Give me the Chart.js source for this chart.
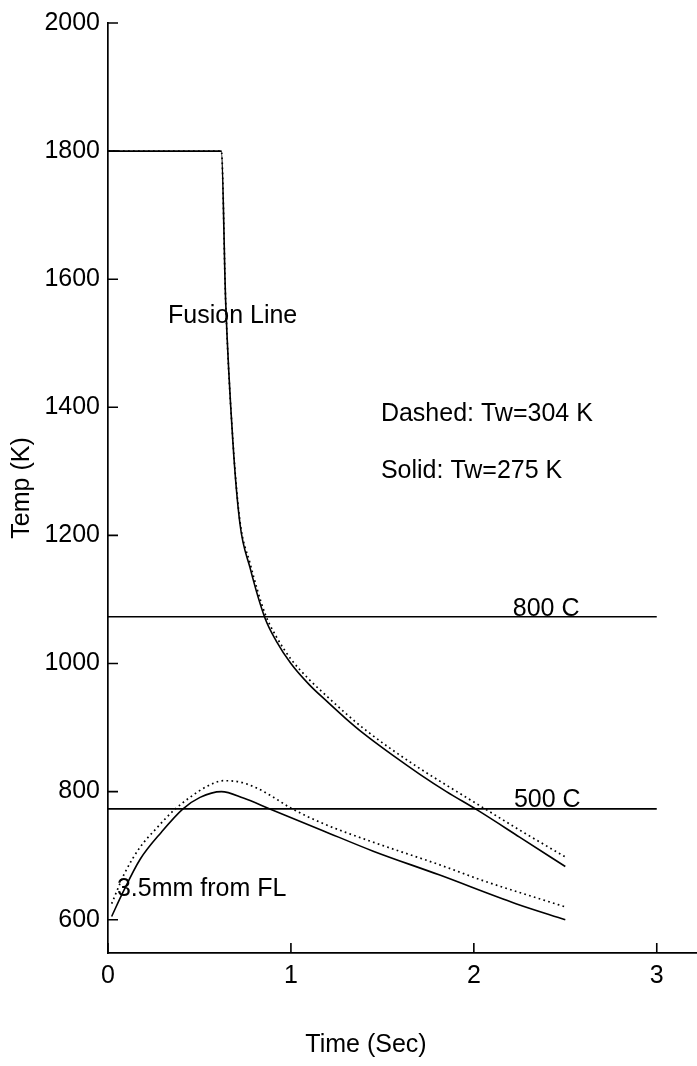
<!DOCTYPE html>
<html>
<head>
<meta charset="utf-8">
<script src="https://cdn.jsdelivr.net/npm/chart.js@4"></script>
<style>
  html, body { margin: 0; padding: 0; background: #ffffff; }
  #container { width: 697px; height: 1066px; position: relative; }
</style>
</head>
<body>
<div id="container"><canvas id="myChart"></canvas></div>
<script>
// time (sec) and temperature (K)
const fusionSolidT = [0, 0.62, 0.643, 0.683, 0.721, 0.776, 0.858, 0.92, 1.0, 1.1, 1.2, 1.3, 1.4, 1.55, 1.705, 1.85, 2.02, 2.25, 2.5];
const fusionSolidK = [1800, 1800, 1567, 1345, 1219, 1150, 1071, 1035, 1000, 967, 940, 914, 890, 858, 827, 800, 771, 729, 683];

const fusionDottedT = [0, 0.62, 0.643, 0.683, 0.721, 0.776, 0.858, 0.92, 1.0, 1.1, 1.2, 1.3, 1.4, 1.55, 1.705, 1.85, 2.05, 2.25, 2.5];
const fusionDottedK = [1800, 1800, 1567, 1347, 1223, 1157, 1078, 1042, 1007, 975, 948, 922, 898, 866, 836, 810, 775, 740, 698];

const nearSolidT = [0.02, 0.082, 0.175, 0.293, 0.41, 0.503, 0.62, 0.74, 0.885, 1.175, 1.45, 1.81, 2.23, 2.5];
const nearSolidK = [605, 643, 694, 737, 773, 791, 800, 790, 773, 739, 707, 670, 625, 600];

const nearDottedT = [0.02, 0.09, 0.175, 0.266, 0.357, 0.448, 0.54, 0.63, 0.72, 0.81, 0.9, 0.995, 1.177, 1.45, 1.81, 2.05, 2.5];
const nearDottedK = [625, 672, 713, 743, 770, 791, 808, 817, 815, 806, 792, 775, 750, 721, 686, 661, 620];

const refLineT = [0, 3];
const line800K = [1073, 1073];
const line500K = [773, 773];

const xTicks = [0, 1, 2, 3];
const yTicks = [600, 800, 1000, 1200, 1400, 1600, 1800, 2000];

const notes = [
    { text: 'Fusion Line', t: 0.328, k: 1543 },
    { text: 'Dashed: Tw=304 K', t: 1.492, k: 1390 },
    { text: 'Solid: Tw=275 K', t: 1.492, k: 1301 },
    { text: '800 C', t: 2.213, k: 1085 },
    { text: '500 C', t: 2.219, k: 786 },
    { text: '3.5mm from FL', t: 0.049, k: 647 }
];

const FONT = '"Liberation Sans", Arial, sans-serif';

function toPoints(ts, ks) {
    return ts.map(function (t, i) { return { x: t, y: ks[i] }; });
}

function lineSet(ts, ks, dotted, smooth) {
    return {
        data: toPoints(ts, ks),
        showLine: true,
        borderColor: '#000000',
        borderWidth: dotted ? 1.7 : 1.6,
        borderDash: dotted ? [1.7, 3.3] : [],
        pointRadius: 0,
        pointHoverRadius: 0,
        fill: false,
        cubicInterpolationMode: smooth ? 'monotone' : 'default',
        tension: 0
    };
}

// inward tick marks, notes and the x title
const extras = {
    id: 'extras',
    afterDraw: function (chart) {
        const ctx = chart.ctx;
        const x = chart.scales.x;
        const y = chart.scales.y;
        const area = chart.chartArea;
        ctx.save();
        ctx.strokeStyle = '#000000';
        ctx.lineWidth = 1.6;
        ctx.beginPath();
        for (const v of yTicks) {
            const py = y.getPixelForValue(v);
            ctx.moveTo(area.left, py);
            ctx.lineTo(area.left + 10, py);
        }
        for (const v of xTicks) {
            const px = x.getPixelForValue(v);
            ctx.moveTo(px, area.bottom);
            ctx.lineTo(px, area.bottom - 10);
        }
        ctx.stroke();

        ctx.fillStyle = '#000000';
        ctx.font = '25px ' + FONT;
        ctx.textAlign = 'left';
        ctx.textBaseline = 'middle';
        for (const n of notes) {
            ctx.fillText(n.text, x.getPixelForValue(n.t), y.getPixelForValue(n.k));
        }
        ctx.textAlign = 'center';
        ctx.fillText('Time (Sec)', 366, 1045);
        ctx.restore();
    }
};

new Chart(document.getElementById('myChart'), {
    type: 'scatter',
    data: {
        datasets: [
            lineSet(fusionSolidT, fusionSolidK, false, true),
            lineSet(fusionDottedT, fusionDottedK, true, true),
            lineSet(nearSolidT, nearSolidK, false, true),
            lineSet(nearDottedT, nearDottedK, true, true),
            lineSet(refLineT, line800K, false, false),
            lineSet(refLineT, line500K, false, false)
        ]
    },
    options: {
        responsive: true,
        maintainAspectRatio: false,
        animation: false,
        layout: {
            padding: { top: 22, left: 0, right: 0, bottom: 0 }
        },
        scales: {
            x: {
                type: 'linear',
                min: 0,
                max: 3.22,
                afterBuildTicks: function (scale) {
                    scale.ticks = xTicks.map(function (v) { return { value: v }; });
                },
                afterFit: function (scale) { scale.height = 113; },
                ticks: {
                    color: '#000000',
                    padding: 8,
                    maxRotation: 0,
                    font: { size: 25, family: FONT },
                    callback: function (v) { return String(v); }
                },
                grid: { display: true, drawOnChartArea: false, drawTicks: false },
                border: { display: true, color: '#000000', width: 1.7 }
            },
            y: {
                type: 'linear',
                min: 548,
                max: 2000,
                afterBuildTicks: function (scale) {
                    scale.ticks = yTicks.map(function (v) { return { value: v }; });
                },
                afterFit: function (scale) { scale.width = 108; },
                ticks: {
                    color: '#000000',
                    padding: 8,
                    font: { size: 25, family: FONT },
                    callback: function (v) { return String(v); }
                },
                grid: { display: true, drawOnChartArea: false, drawTicks: false },
                border: { display: true, color: '#000000', width: 1.7 },
                title: {
                    display: true,
                    text: 'Temp (K)',
                    color: '#000000',
                    padding: { top: 7, bottom: 0 },
                    font: { size: 25, family: FONT }
                }
            }
        },
        plugins: {
            legend: { display: false },
            tooltip: { enabled: false }
        }
    },
    plugins: [extras]
});
</script>
</body>
</html>
